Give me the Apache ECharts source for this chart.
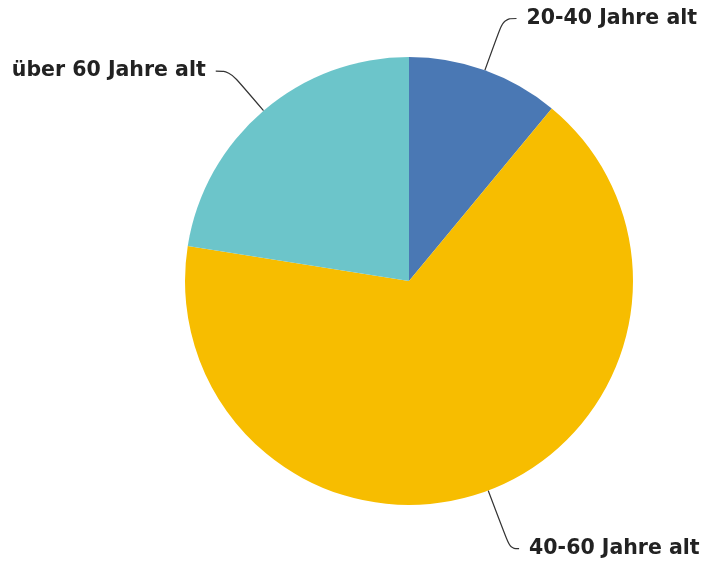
<!DOCTYPE html>
<html><head><meta charset="utf-8">
<script src="https://cdn.jsdelivr.net/npm/echarts@6/dist/echarts.min.js"></script>
<style>html,body{margin:0;padding:0;background:#fff}#c{width:708px;height:564px}</style>
</head><body><div id="c"></div>
<script>
const categories = ['20-40 Jahre alt', '40-60 Jahre alt', 'über 60 Jahre alt'];
const values = [11, 66.5, 22.5];
const colors = ['#4a78b4', '#f7bd00', '#6cc5ca'];
const lineLengths = [[55, 13], [62, 9], [52, 14]];
const chart = echarts.init(document.getElementById('c'));
chart.setOption({
  animation: false,
  series: [{
    type: 'pie',
    center: [409, 281],
    radius: [0, 224],
    startAngle: 90,
    clockwise: true,
    avoidLabelOverlap: false,
    data: categories.map((n, i) => ({
      name: n, value: values[i],
      itemStyle: { color: colors[i] },
      labelLine: { length: lineLengths[i][0], length2: lineLengths[i][1] }
    })),
    label: {
      show: true,
      position: 'outside',
      formatter: '{b}',
      color: '#222',
      fontFamily: 'DejaVu Sans',
      fontWeight: 'bold',
      fontSize: 20.5,
      distanceToLabelLine: 10
    },
    labelLine: {
      show: true,
      smooth: 0.4,
      lineStyle: { color: '#333', width: 1.2 }
    },
    emphasis: { disabled: true }
  }]
});
</script></body></html>
